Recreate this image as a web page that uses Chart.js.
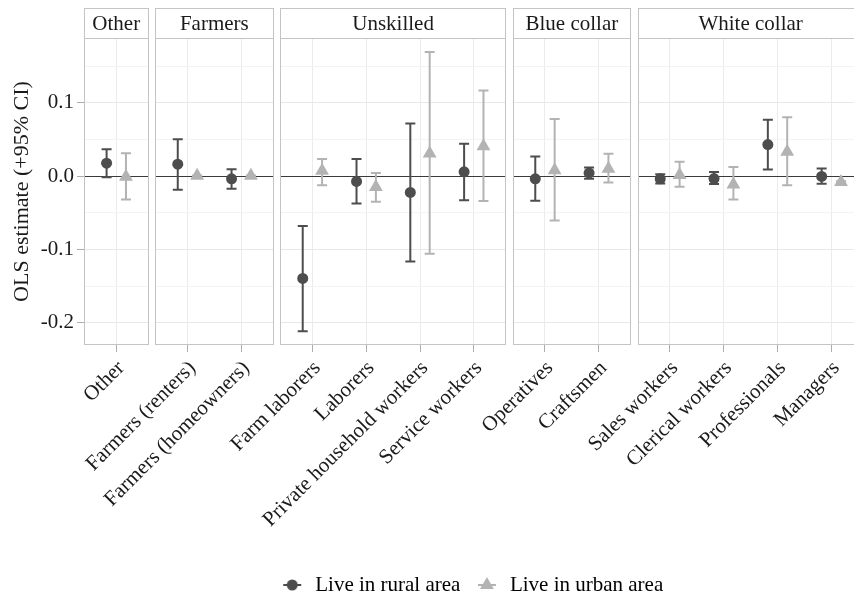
<!DOCTYPE html>
<html>
<head>
<meta charset="utf-8">
<script src="https://cdn.jsdelivr.net/npm/chart.js@4.4.1/dist/chart.umd.min.js"></script>
<style>
  html, body { margin: 0; padding: 0; background: #fff; overflow: hidden; width: 854px; height: 594px; }
  #wrap { position: relative; width: 854px; height: 594px; overflow: hidden; }
  #wrap canvas { position: absolute; top: 0; }
</style>
</head>
<body>
<div id="wrap"></div>
<script>
// occupation groups shown as facets
const panels = ['Other', 'Farmers', 'Unskilled', 'Blue collar', 'White collar'];
const occupations = ['Other', 'Farmers (renters)', 'Farmers (homeowners)', 'Farm laborers', 'Laborers',
  'Private household workers', 'Service workers', 'Operatives', 'Craftsmen', 'Sales workers',
  'Clerical workers', 'Professionals', 'Managers'];
const occPanel = [0, 1, 1, 2, 2, 2, 2, 3, 3, 4, 4, 4, 4];
const seriesNames = ['Live in rural area', 'Live in urban area'];

// OLS estimates with 95% CI
const ruralEst = [0.0177, 0.0163, -0.0037, -0.1397, -0.0073, -0.0223, 0.0059, -0.0037, 0.0041, -0.0037, -0.0033, 0.0431, -0.0005];
const ruralLo  = [-0.0014, -0.0187, -0.0173, -0.2119, -0.0373, -0.1165, -0.0328, -0.0337, -0.0037, -0.0101, -0.0109, 0.0090, -0.0105];
const ruralHi  = [0.0368, 0.0504, 0.0095, -0.0682, 0.0232, 0.0718, 0.0440, 0.0267, 0.0118, 0.0027, 0.0055, 0.0768, 0.0104];
const urbanEst = [-0.0010, 0.0005, 0.0005, 0.0074, -0.0149, 0.0310, 0.0408, 0.0080, 0.0100, 0.0014, -0.0114, 0.0331, -0.0082];
const urbanLo  = [-0.0319, 0.0000, 0.0000, -0.0123, -0.0350, -0.1060, -0.0341, -0.0605, -0.0087, -0.0146, -0.0319, -0.0123, -0.0095];
const urbanHi  = [0.0313, 0.0010, 0.0010, 0.0232, 0.0041, 0.1695, 0.1167, 0.0780, 0.0304, 0.0195, 0.0123, 0.0804, -0.0070];

const yTicks = [-0.2, -0.15, -0.1, -0.05, 0, 0.05, 0.1, 0.15];

const FONT = "'Liberation Serif', 'Times New Roman', serif";
const RURAL = '#4d4d4d';
const URBAN = '#b3b3b3';
const DODGE = 0.18;
const UNIT = 53.8, GAP = 6.6, FIRST_LEFT = 84;
const Y_MIN = -0.2305, Y_MAX = 0.1885;
const CW = 880, CH = 594, AREA_BOTTOM = 345;

const wrap = document.getElementById('wrap');
const isMajor = v => Math.abs(v * 10 - Math.round(v * 10)) < 1e-9;

// panel border, strip box and error bars
const panelFrame = {
  id: 'panelFrame',
  beforeDatasetsDraw(chart) {
    const { ctx, chartArea: a, scales: { x, y } } = chart;
    ctx.save();
    ctx.strokeStyle = '#c4c4c4';
    ctx.lineWidth = 1;
    const l = Math.round(a.left) + 0.5, r = Math.round(a.right) - 0.5;
    ctx.strokeRect(l, Math.round(a.top) + 0.5, r - l, Math.round(a.bottom) - Math.round(a.top) - 1);
    ctx.strokeRect(l, 8.5, r - l, Math.round(a.top) - 8);

    ctx.lineWidth = 2;
    chart.data.datasets.forEach(ds => {
      ctx.strokeStyle = ds.pointBackgroundColor;
      ds.data.forEach((d, k) => {
        const px = x.getPixelForValue(d.x);
        const top = y.getPixelForValue(ds.hi[k]);
        const bot = y.getPixelForValue(ds.lo[k]);
        ctx.beginPath();
        ctx.moveTo(px, top); ctx.lineTo(px, bot);
        ctx.moveTo(px - 5, top); ctx.lineTo(px + 5, top);
        ctx.moveTo(px - 5, bot); ctx.lineTo(px + 5, bot);
        ctx.stroke();
      });
    });
    ctx.restore();
  }
};

function makePanel(p, idx, left, right) {
  const cats = idx.map(i => occupations[i]);
  const first = p === 0;
  const canvas = document.createElement('canvas');
  canvas.width = CW; canvas.height = CH;
  canvas.style.left = '0px';
  wrap.appendChild(canvas);

  new Chart(canvas, {
    type: 'scatter',
    data: {
      datasets: [
        {
          label: seriesNames[0],
          data: idx.map((i, j) => ({ x: j - DODGE, y: ruralEst[i] })),
          lo: idx.map(i => ruralLo[i]),
          hi: idx.map(i => ruralHi[i]),
          pointStyle: 'circle', pointRadius: 5.5, pointBorderWidth: 0,
          pointBackgroundColor: RURAL, pointBorderColor: RURAL
        },
        {
          label: seriesNames[1],
          data: idx.map((i, j) => ({ x: j + DODGE, y: urbanEst[i] })),
          lo: idx.map(i => urbanLo[i]),
          hi: idx.map(i => urbanHi[i]),
          pointStyle: 'triangle', pointRadius: 8, pointBorderWidth: 0,
          pointBackgroundColor: URBAN, pointBorderColor: URBAN
        }
      ]
    },
    options: {
      responsive: false,
      animation: false,
      devicePixelRatio: 1,
      events: [],
      layout: { padding: { left: first ? 0 : left, right: CW - right, top: 8, bottom: 0 } },
      plugins: {
        legend: { display: false },
        tooltip: { enabled: false },
        title: {
          display: true,
          text: panels[p],
          fullSize: false,
          color: '#1a1a1a',
          font: { family: FONT, size: 21, weight: 'normal', lineHeight: 1.2 },
          padding: { top: 4, bottom: 0.8 }
        }
      },
      scales: {
        x: {
          type: 'linear',
          bounds: 'data',
          min: -0.6,
          max: cats.length - 0.4,
          afterBuildTicks: s => { s.ticks = cats.map((c, i) => ({ value: i })); },
          afterFit: s => { s.height = CH - AREA_BOTTOM; },
          border: { display: false },
          grid: { color: '#ebebeb', tickColor: '#adadad', tickLength: 7, lineWidth: 1 },
          ticks: {
            autoSkip: false,
            minRotation: 45, maxRotation: 45,
            padding: 4,
            labelOffset: 5,
            color: '#1a1a1a',
            font: { family: FONT, size: 21 },
            callback: v => cats[v]
          }
        },
        y: {
          min: Y_MIN,
          max: Y_MAX,
          bounds: 'data',
          afterBuildTicks: s => { s.ticks = yTicks.map(v => ({ value: v })); },
          afterFit: s => { s.width = first ? left : 0; },
          border: { display: false },
          grid: {
            drawTicks: first,
            tickLength: 7,
            color: c => c.tick.value === 0 ? '#3a3a3a' : (isMajor(c.tick.value) ? '#e8e8e8' : '#f3f3f3'),
            tickColor: c => isMajor(c.tick.value) ? '#adadad' : 'rgba(0,0,0,0)'
          },
          ticks: {
            display: first,
            padding: 3,
            color: '#1a1a1a',
            font: { family: FONT, size: 21 },
            callback: v => isMajor(v) ? v.toFixed(1) : ''
          },
          title: {
            display: first,
            text: 'OLS estimate (+95% CI)',
            color: '#1a1a1a',
            font: { family: FONT, size: 22 },
            padding: { top: 9, bottom: 0 }
          }
        }
      }
    },
    plugins: [panelFrame]
  });
}

let left = FIRST_LEFT;
panels.forEach((name, p) => {
  const idx = occupations.map((_, i) => i).filter(i => occPanel[i] === p);
  const right = left + (idx.length + 0.2) * UNIT;
  makePanel(p, idx, left, right);
  left = right + GAP;
});

// legend keys: point with a short horizontal errorbar stroke
function legendKey(color, style, r) {
  const c = document.createElement('canvas');
  c.width = 20; c.height = 18;
  const g = c.getContext('2d');
  g.strokeStyle = color; g.fillStyle = color; g.lineWidth = 2;
  g.beginPath(); g.moveTo(1, 9); g.lineTo(19, 9); g.stroke();
  g.beginPath();
  if (style === 'circle') {
    g.arc(10, 9, r, 0, Math.PI * 2);
  } else {
    g.moveTo(10, 9 - r);
    g.lineTo(10 + r * Math.sqrt(3) / 2, 9 + r / 2);
    g.lineTo(10 - r * Math.sqrt(3) / 2, 9 + r / 2);
    g.closePath();
  }
  g.fill();
  return c;
}

const keys = [legendKey(RURAL, 'circle', 5.5), legendKey(URBAN, 'triangle', 8)];
const legendCanvas = document.createElement('canvas');
legendCanvas.width = 743; legendCanvas.height = 54;
legendCanvas.style.left = '100px';
legendCanvas.style.top = '540px';
wrap.appendChild(legendCanvas);

new Chart(legendCanvas, {
  type: 'scatter',
  data: { datasets: seriesNames.map((s, k) => ({ label: s, data: [], pointBackgroundColor: k ? URBAN : RURAL })) },
  options: {
    responsive: false,
    animation: false,
    devicePixelRatio: 1,
    events: [],
    layout: { padding: { top: 20.5, left: 0, right: 0, bottom: 0 } },
    scales: { x: { display: false }, y: { display: false } },
    plugins: {
      tooltip: { enabled: false },
      legend: {
        display: true,
        position: 'top',
        maxHeight: 40,
        labels: {
          usePointStyle: true,
          pointStyleWidth: 25,
          padding: 14,
          color: '#1a1a1a',
          font: { family: FONT, size: 21 },
          generateLabels: chart => chart.data.datasets.map((ds, k) => ({
            text: ds.label,
            pointStyle: keys[k],
            fillStyle: ds.pointBackgroundColor,
            strokeStyle: ds.pointBackgroundColor,
            lineWidth: 0,
            hidden: false,
            datasetIndex: k
          }))
        }
      }
    }
  }
});
</script>
</body>
</html>
